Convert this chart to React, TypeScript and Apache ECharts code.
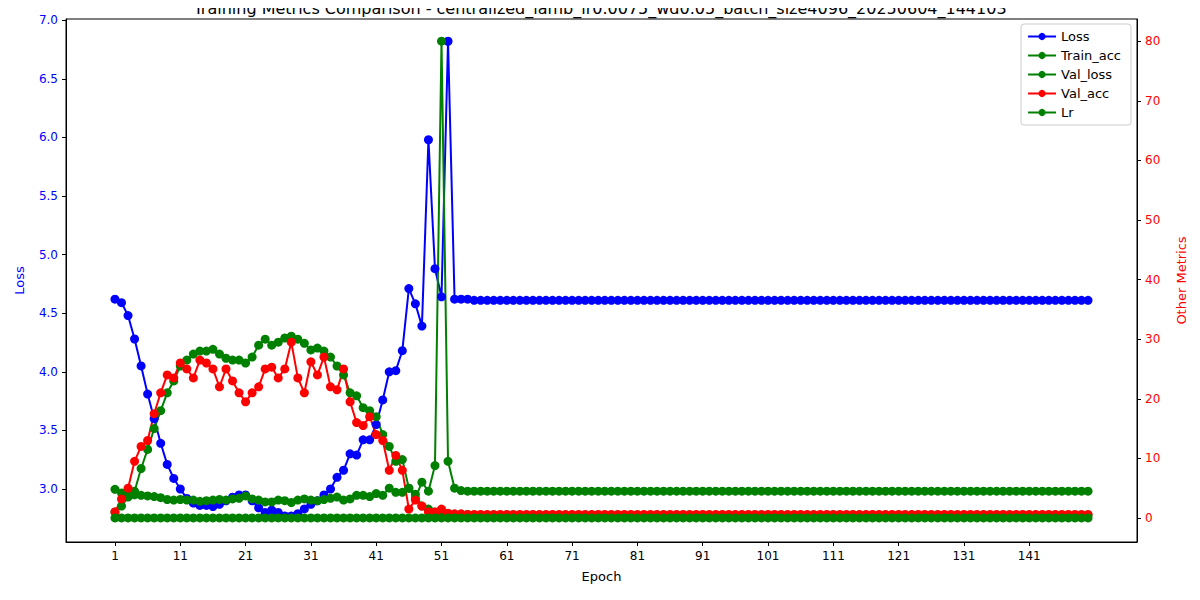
import { useEffect, useRef } from "react";
import * as echarts from "echarts";

const EPOCHS = Array.from({ length: 150 }, (_, i) => i + 1);

const LOSS_HEAD = [
  4.62, 4.59, 4.48, 4.28, 4.05, 3.81, 3.6, 3.39, 3.21, 3.09,
  3.0, 2.92, 2.88, 2.86, 2.86, 2.85, 2.87, 2.9, 2.93, 2.95,
  2.95, 2.9, 2.84, 2.8, 2.82, 2.8, 2.77, 2.77, 2.79, 2.83,
  2.87, 2.9, 2.95, 3.0, 3.1, 3.16, 3.3, 3.29, 3.42, 3.42,
  3.55, 3.76, 4.0, 4.01, 4.18, 4.71, 4.58, 4.39, 5.98, 4.88,
  4.64, 6.82, 4.62, 4.62, 4.62,
];
const LOSS_TAIL = 4.61;

const TRAIN_ACC_HEAD = [
  1.0, 2.0, 3.5, 4.5, 8.3, 11.5, 15, 18, 21, 23,
  25.5, 26.5, 27.5, 28, 28, 28.3, 27.5, 26.8, 26.5, 26.5,
  26, 27, 29, 30, 29, 29.5, 30.2, 30.5, 30, 29.3,
  28.2, 28.5, 28, 27, 25.5, 24, 21, 20.5, 18.5, 18,
  17, 14, 12, 9.5, 9.8, 5, 4, 2, 1.5, 1,
  1, 0.6, 0.6, 0.6, 0.6,
];
const TRAIN_ACC_TAIL = 0.5;

const VAL_LOSS_HEAD = [
  4.8, 4.2, 4.0, 3.9, 3.8, 3.7, 3.6, 3.4, 3.1, 3.0,
  3.1, 3.0, 3.0, 2.8, 2.9, 3.0, 3.1, 3.0, 3.2, 3.3,
  3.7, 3.2, 3.0, 2.7, 2.7, 3.0, 2.9, 2.6, 3.0, 3.2,
  3.0, 2.9, 3.1, 3.3, 3.5, 3.0, 3.2, 3.8, 3.8, 3.6,
  4.1, 3.8, 5.0, 4.3, 4.3, 5.0, 3.3, 6.0, 4.5, 8.8,
  80, 9.5, 5.0, 4.6, 4.5,
];
const VAL_LOSS_TAIL = 4.5;

const VAL_ACC_HEAD = [
  1.0, 3.2, 5, 9.5, 12, 13, 17.5, 21, 24, 23.5,
  26, 25, 23.5, 26.5, 26, 25, 22, 25, 23, 21,
  19.5, 21, 22, 25, 25.3, 23.5, 25, 29.5, 23.5, 21,
  26.2, 24, 27, 22, 21.5, 25, 19.5, 16, 15.5, 17,
  14, 13, 8, 10.5, 8, 1.5, 3, 2, 1, 1,
  1.5, 0.8, 0.7, 0.7, 0.6,
];
const VAL_ACC_TAIL = 0.6;

const LR = 0.0075;

const LEFT_TICKS = [3.0, 3.5, 4.0, 4.5, 5.0, 5.5, 6.0, 6.5, 7.0];
const RIGHT_TICKS = [0, 10, 20, 30, 40, 50, 60, 70, 80];
const X_TICKS = [1, 11, 21, 31, 41, 51, 61, 71, 81, 91, 101, 111, 121, 131, 141];

const fill = (head: number[], tail: number) =>
  EPOCHS.map((e, i) => [e, i < head.length ? head[i] : tail]);

const FONT = "DejaVu Sans";

const App = () => {
  const chartRef = useRef<HTMLDivElement>(null);

  useEffect(() => {
    if (!chartRef.current) return;
    const chart = echarts.init(chartRef.current, undefined, { renderer: "svg" });

    const line = (name: string, color: string, data: number[][], yAxisIndex: number) => ({
      name,
      type: "line" as const,
      yAxisIndex,
      data,
      symbol: "circle",
      symbolSize: 9,
      showSymbol: true,
      lineStyle: { width: 2, color },
      itemStyle: { color },
    });

    chart.setOption({
      animation: false,
      textStyle: { fontFamily: FONT },
      title: {
        text: "Training Metrics Comparison - centralized_lamb_lr0.0075_wd0.05_batch_size4096_20250604_144103",
        left: "center",
        top: -5,
        textStyle: { fontSize: 16, fontWeight: "normal", color: "#000", fontFamily: FONT },
      },
      legend: {
        orient: "vertical",
        right: 69,
        top: 24,
        padding: [6, 10, 6, 6],
        itemGap: 6,
        itemWidth: 28,
        itemHeight: 9,
        borderColor: "#ccc",
        borderWidth: 1,
        borderRadius: 3,
        backgroundColor: "#fff",
        textStyle: { fontSize: 13, color: "#000", fontFamily: FONT },
      },
      grid: { left: 66, right: 63, top: 19, bottom: 58 },
      xAxis: {
        type: "value",
        min: -6.5,
        max: 157.5,
        name: "Epoch",
        nameLocation: "middle",
        nameGap: 28,
        nameTextStyle: { fontSize: 13, color: "#000" },
        axisLine: { onZero: false, lineStyle: { color: "#000" } },
        axisTick: { customValues: X_TICKS, length: 4, lineStyle: { color: "#000" } },
        axisLabel: { customValues: X_TICKS, color: "#000", fontSize: 12 },
        splitLine: { show: false },
      },
      yAxis: [
        {
          type: "value",
          min: 2.548,
          max: 7.01,
          name: "Loss",
          nameLocation: "middle",
          nameGap: 40,
          nameTextStyle: { fontSize: 13, color: "blue" },
          axisLine: { show: true, onZero: false, lineStyle: { color: "#000" } },
          axisTick: { show: true, customValues: LEFT_TICKS, length: 4, lineStyle: { color: "#000" } },
          axisLabel: {
            customValues: LEFT_TICKS,
            color: "blue",
            fontSize: 12,
            formatter: (v: number) => v.toFixed(1),
          },
          splitLine: { show: false },
        },
        {
          type: "value",
          min: -4.03,
          max: 83.72,
          name: "Other Metrics",
          nameLocation: "middle",
          nameGap: 38,
          nameTextStyle: { fontSize: 13, color: "red" },
          axisLine: { show: true, onZero: false, lineStyle: { color: "#000" } },
          axisTick: { show: true, customValues: RIGHT_TICKS, length: 4, lineStyle: { color: "#000" } },
          axisLabel: { customValues: RIGHT_TICKS, color: "red", fontSize: 12 },
          splitLine: { show: false },
        },
      ],
      graphic: [
        {
          type: "rect",
          shape: { x: 66, y: 19, width: 1071, height: 523 },
          style: { fill: "none", stroke: "#000", lineWidth: 1 },
          silent: true,
        },
      ],
      series: [
        line("Loss", "blue", fill(LOSS_HEAD, LOSS_TAIL), 0),
        line("Train_acc", "green", fill(TRAIN_ACC_HEAD, TRAIN_ACC_TAIL), 1),
        line("Val_loss", "green", fill(VAL_LOSS_HEAD, VAL_LOSS_TAIL), 1),
        line("Val_acc", "red", fill(VAL_ACC_HEAD, VAL_ACC_TAIL), 1),
        line("Lr", "green", fill([], LR), 1),
      ],
    });

    return () => chart.dispose();
  }, []);

  return <div ref={chartRef} style={{ width: 1200, height: 600, margin: -8 }} />;
};

export default App;
